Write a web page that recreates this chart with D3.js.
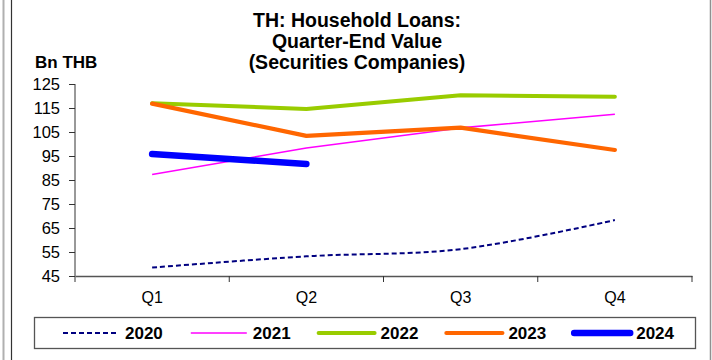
<!DOCTYPE html>
<html><head><meta charset="utf-8">
<script src="https://cdn.jsdelivr.net/npm/d3@7"></script>
<style>
html,body{margin:0;padding:0;background:#fff;}
svg{display:block;font-family:"Liberation Sans",Arial,sans-serif;}
</style></head>
<body>
<svg id="chart" width="712" height="360"></svg>
<script>
const categories = ["Q1","Q2","Q3","Q4"];
const yTicks = [45,55,65,75,85,95,105,115,125];
const titleLines = ["TH: Household Loans:","Quarter-End Value","(Securities Companies)"];
const unitLabel = "Bn THB";
const seriesNames = ["2020","2021","2022","2023","2024"];
const v2020 = [48.5, 53.2, 56.2, 68.3];
const v2021 = [87.3, 98.3, 106.7, 112.4];
const v2022 = [117.0, 114.6, 120.3, 119.7];
const v2023 = [116.8, 103.4, 106.8, 97.5];
const v2024 = [95.8, 91.7];

const styles = {
  "2020": {color:"#000080", width:2, dash:"5,3", smooth:true, cap:"butt"},
  "2021": {color:"#FF00FF", width:1.6, dash:null, cap:"butt"},
  "2022": {color:"#99CC00", width:4, dash:null, cap:"round"},
  "2023": {color:"#FF6600", width:4.2, dash:null, cap:"round"},
  "2024": {color:"#0000FF", width:6.5, dash:null, cap:"round"}
};
const values = {"2020":v2020,"2021":v2021,"2022":v2022,"2023":v2023,"2024":v2024};

const svg = d3.select("#chart");
svg.append("rect").attr("width",712).attr("height",360).attr("fill","#fff");

// frame lines
svg.append("line").attr("x1",3.5).attr("x2",3.5).attr("y1",0).attr("y2",360).attr("stroke","#b0b0b0").attr("stroke-width",2);
svg.append("line").attr("x1",11.5).attr("x2",11.5).attr("y1",0).attr("y2",360).attr("stroke","#333").attr("stroke-width",1.2);
svg.append("line").attr("x1",710.5).attr("x2",710.5).attr("y1",0).attr("y2",360).attr("stroke","#909090").attr("stroke-width",1.5);

const x = d3.scaleBand().domain(categories).range([75, 692]).padding(0);
const y = d3.scaleLinear().domain([45,125]).range([276, 84]);

// title
svg.append("g").selectAll("text").data(titleLines).join("text")
  .attr("x",357).attr("y",(d,i)=>27+i*21)
  .attr("text-anchor","middle").attr("font-weight","bold").attr("font-size",19.5)
  .attr("fill","#000").text(d=>d);
svg.append("text").attr("x",35).attr("y",68).attr("font-weight","bold").attr("font-size",17).text(unitLabel);

// y axis
const yAxis = svg.append("g").attr("transform","translate(75,0)")
  .call(d3.axisLeft(y).tickValues(yTicks).tickSize(6).tickPadding(9).tickFormat(d3.format("d")));
yAxis.select(".domain").attr("stroke","#333").attr("d","M0,84V282");
yAxis.selectAll(".tick line").attr("stroke","#333");
yAxis.selectAll("text").attr("font-size",16.5).attr("fill","#000").attr("font-family","Liberation Sans, Arial, sans-serif");

// x axis
const xAxis = svg.append("g").attr("transform","translate(0,276)")
  .call(d3.axisBottom(x).tickSize(0).tickPadding(16));
xAxis.select(".domain").attr("stroke","#555").attr("stroke-width",1.3);
xAxis.selectAll("text").attr("font-size",16).attr("fill","#000").attr("font-family","Liberation Sans, Arial, sans-serif");
// category boundary ticks
const bounds = categories.slice(1).map(c=>x(c)).concat([x.range()[1]]);
svg.append("g").selectAll("line").data(bounds).join("line")
  .attr("x1",d=>d).attr("x2",d=>d).attr("y1",276).attr("y2",282).attr("stroke","#333");

// lines
const cx = c => x(c) + x.bandwidth()/2;
seriesNames.forEach(name=>{
  const st = styles[name];
  const data = values[name].map((v,i)=>({c:categories[i], v}));
  const gen = d3.line().x(d=>cx(d.c)).y(d=>y(d.v))
    .curve(st.smooth ? d3.curveCatmullRom.alpha(0.5) : d3.curveLinear);
  svg.append("path").datum(data).attr("d",gen)
    .attr("fill","none").attr("stroke",st.color).attr("stroke-width",st.width)
    .attr("stroke-dasharray",st.dash).attr("stroke-linecap",st.cap).attr("stroke-linejoin","round");
});

// legend
const lg = svg.append("g");
lg.append("rect").attr("x",34.5).attr("y",317.5).attr("width",661).attr("height",31)
  .attr("fill","#fff").attr("stroke","#555").attr("stroke-width",1.3);
seriesNames.forEach((name,i)=>{
  const st = styles[name];
  const x0 = 63 + i*127.8;
  lg.append("line").attr("x1",x0).attr("x2",x0+56).attr("y1",333).attr("y2",333)
    .attr("stroke",st.color).attr("stroke-width",st.width).attr("stroke-dasharray",st.dash)
    .attr("stroke-linecap",st.cap);
  lg.append("text").attr("x",x0+62).attr("y",339).attr("font-weight","bold").attr("font-size",17).text(name);
});
</script>
</body></html>
